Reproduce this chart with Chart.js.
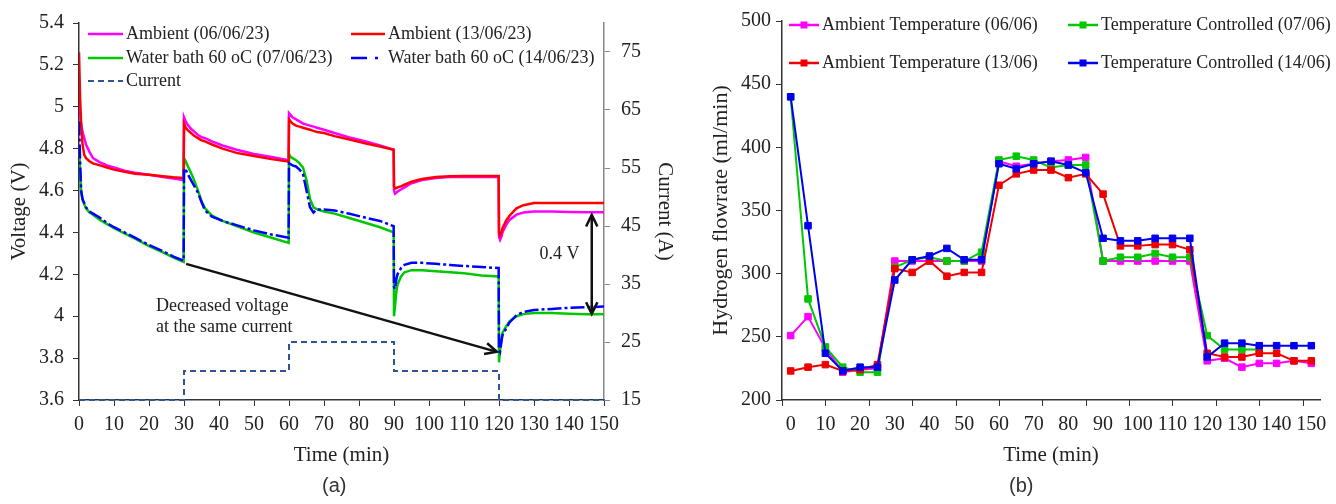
<!DOCTYPE html>
<html>
<head>
<meta charset="utf-8">
<script src="https://cdn.jsdelivr.net/npm/chart.js@4.4.0/dist/chart.umd.min.js"></script>
<style>
  body { margin: 0; background: #fff; width: 1336px; height: 504px; overflow: hidden; position: relative; }
  canvas { position: absolute; top: 0; }
  #chartA { left: 0; }
  #chartB { left: 680px; }
  .panel { position: absolute; top: 474px; font-family: "Liberation Sans", sans-serif; font-size: 20px; color: #333; }
</style>
</head>
<body>
<canvas id="chartA" width="680" height="504"></canvas>
<canvas id="chartB" width="656" height="504"></canvas>
<div class="panel" style="left:322px">(a)</div>
<div class="panel" style="left:1009px">(b)</div>
<script>
// ---- panel (a): voltage / current vs time ----
let timeV = [0, 0.3, 0.6, 1, 1.5, 2, 3, 4, 6, 8, 10, 13, 16, 20, 24, 27, 29.9,
  30, 30.5, 31, 32, 33, 34, 35, 36, 38, 41, 45, 50, 55, 59.9,
  60, 60.5, 61, 62, 63, 64, 65, 66, 67, 68, 70, 73, 77, 82, 86, 89.9,
  90, 90.3, 90.7, 91, 92, 93, 95, 98, 102, 106, 110, 115, 119.9,
  120, 120.3, 120.7, 121, 122, 123, 125, 127, 130, 135, 140, 145, 150];

let ambient0606 = [5.02, 4.97, 4.92, 4.88, 4.85, 4.82, 4.785, 4.755, 4.735, 4.72, 4.71, 4.695, 4.685, 4.675, 4.665, 4.657, 4.65,
  4.95, 4.93, 4.915, 4.895, 4.88, 4.865, 4.855, 4.85, 4.835, 4.815, 4.795, 4.775, 4.76, 4.745,
  4.97, 4.96, 4.95, 4.94, 4.93, 4.92, 4.915, 4.91, 4.905, 4.9, 4.89, 4.875, 4.855, 4.835, 4.815, 4.795,
  4.6, 4.585, 4.59, 4.595, 4.605, 4.615, 4.635, 4.65, 4.66, 4.665, 4.665, 4.665, 4.665,
  4.38, 4.365, 4.38, 4.40, 4.435, 4.46, 4.485, 4.495, 4.5, 4.5, 4.498, 4.497, 4.497];

let ambient1306 = [5.26, 5.05, 4.92, 4.82, 4.77, 4.755, 4.74, 4.73, 4.72, 4.71, 4.70, 4.69, 4.68, 4.675, 4.668, 4.663, 4.66,
  4.92, 4.90, 4.89, 4.875, 4.86, 4.85, 4.84, 4.835, 4.82, 4.80, 4.78, 4.765, 4.75, 4.738,
  4.94, 4.93, 4.92, 4.91, 4.905, 4.9, 4.895, 4.89, 4.885, 4.88, 4.875, 4.86, 4.845, 4.825, 4.81, 4.795,
  4.62, 4.61, 4.612, 4.615, 4.62, 4.628, 4.642, 4.655, 4.665, 4.668, 4.67, 4.67, 4.67,
  4.40, 4.385, 4.40, 4.42, 4.455, 4.48, 4.515, 4.53, 4.54, 4.54, 4.54, 4.54, 4.54];

let bath0706 = [4.82, 4.70, 4.60, 4.555, 4.535, 4.515, 4.495, 4.485, 4.46, 4.44, 4.42, 4.395, 4.37, 4.335, 4.305, 4.28, 4.26,
  4.755, 4.74, 4.72, 4.685, 4.645, 4.60, 4.55, 4.515, 4.48, 4.455, 4.43, 4.40, 4.375, 4.35,
  4.775, 4.76, 4.755, 4.745, 4.73, 4.71, 4.65, 4.56, 4.52, 4.51, 4.50, 4.49, 4.47, 4.445, 4.425, 4.40,
  4.00, 4.05, 4.12, 4.15, 4.19, 4.21, 4.22, 4.22, 4.215, 4.21, 4.205, 4.195, 4.19,
  3.78, 3.84, 3.89, 3.92, 3.95, 3.975, 4.0, 4.01, 4.015, 4.015, 4.012, 4.01, 4.01];

let bath1406 = [4.93, 4.75, 4.60, 4.56, 4.54, 4.52, 4.50, 4.49, 4.47, 4.445, 4.425, 4.40, 4.375, 4.34, 4.31, 4.285, 4.265,
  4.705, 4.70, 4.68, 4.65, 4.62, 4.59, 4.545, 4.505, 4.475, 4.455, 4.435, 4.41, 4.39, 4.375,
  4.74, 4.725, 4.72, 4.715, 4.70, 4.68, 4.60, 4.52, 4.495, 4.51, 4.51, 4.505, 4.49, 4.47, 4.455, 4.43,
  4.14, 4.13, 4.18, 4.20, 4.23, 4.245, 4.255, 4.255, 4.25, 4.245, 4.24, 4.235, 4.23,
  3.84, 3.83, 3.88, 3.91, 3.94, 3.97, 4.005, 4.02, 4.03, 4.035, 4.04, 4.043, 4.047];

let timeI = [0, 30, 30, 60, 60, 90, 90, 120, 120, 150];
let current = [15, 15, 20, 20, 25, 25, 20, 20, 15, 15];

let ticksTimeA = [0, 10, 20, 30, 40, 50, 60, 70, 80, 90, 100, 110, 120, 130, 140, 150];
let ticksVolt = [3.6, 3.8, 4.0, 4.2, 4.4, 4.6, 4.8, 5.0, 5.2, 5.4];
let ticksAmp = [15, 25, 35, 45, 55, 65, 75];

// ---- panel (b): hydrogen flowrate ----
let timeH = [0, 5, 10, 15, 20, 25, 30, 35, 40, 45, 50, 55, 60, 65, 70, 75, 80, 85, 90, 95, 100, 105, 110, 115, 120, 125, 130, 135, 140, 145, 150];
let flowAmb0606 = [251, 266, 241, 222, 224, 225, 310, 310, 310, 310, 310, 310, 389, 385, 387, 389, 390, 392, 310, 310, 310, 310, 310, 310, 231, 233, 226, 229, 229, 231, 229];
let flowCtl0706 = [440, 280, 242, 226, 222, 222, 305, 311, 313, 310, 310, 317, 390, 393, 390, 384, 386, 386, 310, 313, 313, 316, 313, 313, 251, 240, 240, 240, null, null, null];
let flowAmb1306 = [223, 226, 228, 223, 224, 228, 304, 301, 310, 298, 301, 301, 370, 379, 382, 382, 376, 379, 363, 322, 322, 323, 323, 319, 237, 234, 234, 237, 237, 231, 231];
let flowCtl1406 = [440, 338, 237, 223, 226, 226, 295, 311, 314, 320, 311, 311, 387, 383, 387, 389, 386, 380, 328, 326, 326, 328, 328, 328, 234, 245, 245, 243, 243, 243, 243];
let ticksTimeB = [0, 10, 20, 30, 40, 50, 60, 70, 80, 90, 100, 110, 120, 130, 140, 150];

Chart.defaults.font.family = '"Liberation Serif", "Times New Roman", serif';
Chart.defaults.color = '#222';

function puntos(xs, ys) {
  return xs.map((x, i) => ({ x: x, y: ys[i] }));
}

function ponerTicks(lista) {
  return function (scale) {
    scale.ticks = lista.map(v => ({ value: v }));
  };
}

function punta(ctx, x1, y1, x2, y2) {
  let ang = Math.atan2(y2 - y1, x2 - x1);
  let L = 13;
  ctx.beginPath();
  ctx.moveTo(x2 - L * Math.cos(ang - 0.45), y2 - L * Math.sin(ang - 0.45));
  ctx.lineTo(x2, y2);
  ctx.lineTo(x2 - L * Math.cos(ang + 0.45), y2 - L * Math.sin(ang + 0.45));
  ctx.stroke();
}

function flecha(ctx, x1, y1, x2, y2, dobles) {
  ctx.beginPath();
  ctx.moveTo(x1, y1);
  ctx.lineTo(x2, y2);
  ctx.stroke();
  punta(ctx, x1, y1, x2, y2);
  if (dobles) punta(ctx, x2, y2, x1, y1);
}

function leyenda(items, marcador) {
  return {
    id: 'leyenda',
    afterDraw(chart) {
      let ctx = chart.ctx;
      ctx.save();
      ctx.font = '18px "Liberation Serif"';
      ctx.textBaseline = 'middle';
      items.forEach(it => {
        ctx.strokeStyle = it.color;
        ctx.lineWidth = it.w || 2.5;
        ctx.setLineDash(it.dash || []);
        ctx.beginPath();
        ctx.moveTo(it.x, it.y);
        ctx.lineTo(it.x + it.len, it.y);
        ctx.stroke();
        ctx.setLineDash([]);
        if (marcador) {
          ctx.fillStyle = it.color;
          ctx.fillRect(it.x + it.len / 2 - 3.5, it.y - 3.5, 7, 7);
        }
        ctx.fillStyle = '#222';
        ctx.fillText(it.label, it.x + it.len + 3, it.y);
      });
      ctx.restore();
    }
  };
}

let notas = {
  id: 'notas',
  afterDraw(chart) {
    let x = chart.scales.x, y = chart.scales.y, ctx = chart.ctx;
    ctx.save();
    ctx.strokeStyle = '#111';
    ctx.lineWidth = 2.5;
    flecha(ctx, x.getPixelForValue(30.6), y.getPixelForValue(4.25), x.getPixelForValue(119.4), y.getPixelForValue(3.83), false);
    flecha(ctx, x.getPixelForValue(146.5), y.getPixelForValue(4.484), x.getPixelForValue(146.5), y.getPixelForValue(4.011), true);
    ctx.fillStyle = '#222';
    ctx.font = '18px "Liberation Serif"';
    ctx.textBaseline = 'middle';
    ctx.textAlign = 'center';
    ctx.fillText('0.4 V', x.getPixelForValue(137.3), y.getPixelForValue(4.295));
    ctx.textAlign = 'left';
    ctx.fillText('Decreased voltage', x.getPixelForValue(22), y.getPixelForValue(4.048));
    ctx.fillText('at the same current', x.getPixelForValue(22), y.getPixelForValue(3.949));
    ctx.restore();
  }
};

// tick marks of panel (b) x axis sit every 12.5 min from the axis start
let marcasB = {
  id: 'marcasB',
  afterDraw(chart) {
    let x = chart.scales.x, ctx = chart.ctx;
    ctx.save();
    ctx.strokeStyle = '#333';
    ctx.lineWidth = 1;
    for (let v = x.min; v <= x.max + 0.01; v += 12.5) {
      let px = Math.round(x.getPixelForValue(v)) + 0.5;
      ctx.beginPath();
      ctx.moveTo(px, chart.chartArea.bottom);
      ctx.lineTo(px, chart.chartArea.bottom + 6);
      ctx.stroke();
    }
    ctx.restore();
  }
};

let lineaSerie = { pointRadius: 0, borderWidth: 2.5, fill: false, tension: 0 };

new Chart(document.getElementById('chartA'), {
  type: 'line',
  data: {
    datasets: [
      Object.assign({ label: 'Ambient (06/06/23)', data: puntos(timeV, ambient0606), borderColor: '#FF00FF', order: 4 }, lineaSerie),
      Object.assign({ label: 'Ambient (13/06/23)', data: puntos(timeV, ambient1306), borderColor: '#FF0000', order: 2 }, lineaSerie),
      Object.assign({ label: 'Water bath 60 oC (07/06/23)', data: puntos(timeV, bath0706), borderColor: '#00C800', order: 3 }, lineaSerie),
      Object.assign({ label: 'Water bath 60 oC (14/06/23)', data: puntos(timeV, bath1406), borderColor: '#0000FF', borderDash: [14, 3, 3, 3], order: 1 }, lineaSerie),
      { label: 'Current', data: puntos(timeI, current), yAxisID: 'y1', borderColor: '#2F5597', borderDash: [6, 4], borderWidth: 2, pointRadius: 0, order: 5, clip: 4 }
    ]
  },
  options: {
    responsive: false,
    animation: false,
    layout: { padding: { top: 18, bottom: 32, left: 0, right: 0 } },
    plugins: { legend: { display: false }, tooltip: { enabled: false } },
    scales: {
      x: {
        type: 'linear', min: 0, max: 150,
        afterBuildTicks: ponerTicks(ticksTimeA),
        afterFit: s => { s.height = 72; },
        ticks: { font: { size: 20 }, padding: 7, maxRotation: 0, autoSkip: false },
        grid: { drawOnChartArea: false, tickLength: 6, color: '#333' },
        border: { color: '#333', width: 1.5 },
        title: { display: true, text: 'Time (min)', font: { size: 21 } }
      },
      y: {
        min: 3.6, max: 5.4,
        afterBuildTicks: ponerTicks(ticksVolt),
        afterFit: s => { s.width = 79; },
        ticks: { font: { size: 20 }, padding: 9, callback: v => String(Math.round(v * 10) / 10) },
        grid: { drawOnChartArea: false, tickLength: 6, color: '#333' },
        border: { color: '#333', width: 1.5 },
        title: { display: true, text: 'Voltage (V)', font: { size: 21 }, padding: { top: 7, bottom: 4 } }
      },
      y1: {
        position: 'right', min: 15, max: 80,
        afterBuildTicks: ponerTicks(ticksAmp),
        afterFit: s => { s.width = 76; },
        ticks: { font: { size: 20 }, padding: 11 },
        grid: { drawOnChartArea: false, tickLength: 6, color: '#888' },
        border: { color: '#888', width: 1.5 },
        title: { display: true, text: 'Current (A)', font: { size: 21 }, padding: { top: 3, bottom: 4 } }
      }
    }
  },
  plugins: [notas, leyenda([
    { label: 'Ambient (06/06/23)', color: '#FF00FF', x: 88, y: 34, len: 35 },
    { label: 'Ambient (13/06/23)', color: '#FF0000', x: 351, y: 34, len: 34 },
    { label: 'Water bath 60 oC (07/06/23)', color: '#00C800', x: 88, y: 58, len: 35 },
    { label: 'Water bath 60 oC (14/06/23)', color: '#0000FF', x: 351, y: 58, len: 34, dash: [16, 8, 3, 8] },
    { label: 'Current', color: '#2F5597', x: 88, y: 81, len: 35, dash: [6, 4], w: 2 }
  ], false)]
});

let lineaFlujo = { pointStyle: 'rect', pointRadius: 4.6, pointBorderWidth: 1, borderWidth: 2, tension: 0, spanGaps: false };

new Chart(document.getElementById('chartB'), {
  type: 'line',
  data: {
    datasets: [
      Object.assign({ label: 'Ambient Temperature (06/06)', data: puntos(timeH, flowAmb0606), borderColor: '#FF00FF', backgroundColor: '#FF00FF', order: 4 }, lineaFlujo),
      Object.assign({ label: 'Temperature Controlled (07/06)', data: puntos(timeH, flowCtl0706), borderColor: '#00C800', backgroundColor: '#00C800', order: 3 }, lineaFlujo),
      Object.assign({ label: 'Ambient Temperature (13/06)', data: puntos(timeH, flowAmb1306), borderColor: '#EE0000', backgroundColor: '#EE0000', order: 2 }, lineaFlujo),
      Object.assign({ label: 'Temperature Controlled (14/06)', data: puntos(timeH, flowCtl1406), borderColor: '#0000EE', backgroundColor: '#0000EE', order: 1 }, lineaFlujo)
    ]
  },
  options: {
    responsive: false,
    animation: false,
    layout: { padding: { top: 21, bottom: 32, left: 0, right: 16 } },
    plugins: { legend: { display: false }, tooltip: { enabled: false } },
    scales: {
      x: {
        type: 'linear', min: -2.5, max: 152.5,
        afterBuildTicks: ponerTicks(ticksTimeB),
        afterFit: s => { s.height = 72; },
        ticks: { font: { size: 20 }, padding: 7, maxRotation: 0, autoSkip: false },
        grid: { drawOnChartArea: false, tickLength: 6, tickColor: 'rgba(0,0,0,0)' },
        border: { color: '#333', width: 1.5 },
        title: { display: true, text: 'Time (min)', font: { size: 21 } }
      },
      y: {
        min: 200, max: 500,
        ticks: { font: { size: 20 }, padding: 5, stepSize: 50 },
        afterFit: s => { s.width = 102; },
        grid: { drawOnChartArea: false, tickLength: 6, color: '#333' },
        border: { color: '#333', width: 1.5 },
        title: { display: true, text: 'Hydrogen flowrate (ml/min)', font: { size: 22 }, padding: { top: 28, bottom: 4 } }
      }
    }
  },
  plugins: [marcasB, leyenda([
    { label: 'Ambient Temperature (06/06)', color: '#FF00FF', x: 109, y: 25, len: 30 },
    { label: 'Temperature Controlled (07/06)', color: '#00C800', x: 388, y: 25, len: 30 },
    { label: 'Ambient Temperature (13/06)', color: '#EE0000', x: 109, y: 63, len: 30 },
    { label: 'Temperature Controlled (14/06)', color: '#0000EE', x: 388, y: 63, len: 30 }
  ], true)]
});
</script>
</body>
</html>
